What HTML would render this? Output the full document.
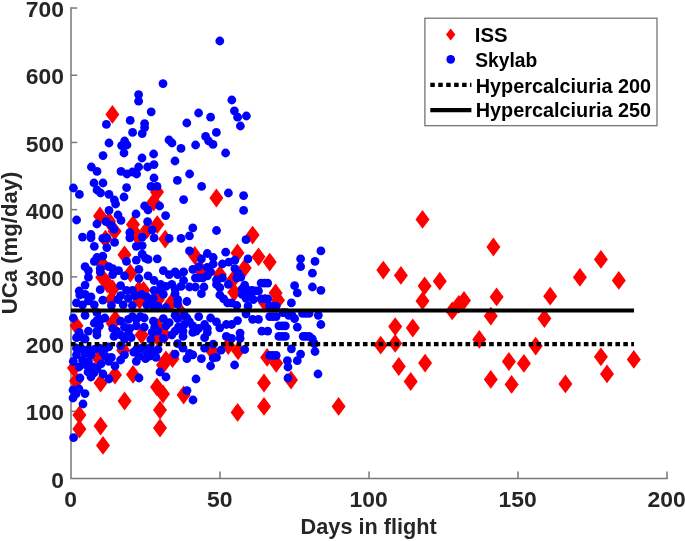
<!DOCTYPE html>
<html><head><meta charset="utf-8"><title>UCa vs Days in flight</title>
<style>
html,body{margin:0;padding:0;background:#fff;}
svg{display:block;}
text{font-family:"Liberation Sans",sans-serif;font-weight:bold;fill:#262626;}
.lg{fill:#000;}
</style></head><body>
<svg width="685" height="541" viewBox="0 0 685 541">
<rect width="685" height="541" fill="#fff"/>

<g stroke="#787878" stroke-width="1.5" fill="none">
<path d="M71.0 7.30V478.5H667.75"/>
<path d="M71.0 411.29h6.2"/>
<path d="M71.0 344.09h6.2"/>
<path d="M71.0 276.88h6.2"/>
<path d="M71.0 209.67h6.2"/>
<path d="M71.0 142.46h6.2"/>
<path d="M71.0 75.26h6.2"/>
<path d="M71.0 8.05h6.2"/>
<path d="M220.00 478.5v-6.9"/>
<path d="M369.00 478.5v-6.9"/>
<path d="M518.00 478.5v-6.9"/>
<path d="M667.00 478.5v-6.9"/>
</g>
<g fill="#ff0000">
<path d="M112.4 105.0L119.4 114.4L112.4 123.8L105.4 114.4Z"/>
<path d="M157.0 182.6L164.0 192.0L157.0 201.4L150.0 192.0Z"/>
<path d="M153.6 192.6L160.6 202.0L153.6 211.4L146.6 202.0Z"/>
<path d="M100.0 206.6L107.0 216.0L100.0 225.4L93.0 216.0Z"/>
<path d="M109.0 211.6L116.0 221.0L109.0 230.4L102.0 221.0Z"/>
<path d="M216.4 188.6L223.4 198.0L216.4 207.4L209.4 198.0Z"/>
<path d="M163.0 355.6L170.0 365.0L163.0 374.4L156.0 365.0Z"/>
<path d="M74.0 358.6L81.0 368.0L74.0 377.4L67.0 368.0Z"/>
<path d="M115.0 365.6L122.0 375.0L115.0 384.4L108.0 375.0Z"/>
<path d="M133.0 365.0L140.0 374.4L133.0 383.8L126.0 374.4Z"/>
<path d="M76.0 371.6L83.0 381.0L76.0 390.4L69.0 381.0Z"/>
<path d="M100.6 373.6L107.6 383.0L100.6 392.4L93.6 383.0Z"/>
<path d="M157.0 377.6L164.0 387.0L157.0 396.4L150.0 387.0Z"/>
<path d="M163.0 384.6L170.0 394.0L163.0 403.4L156.0 394.0Z"/>
<path d="M183.6 385.6L190.6 395.0L183.6 404.4L176.6 395.0Z"/>
<path d="M124.6 391.6L131.6 401.0L124.6 410.4L117.6 401.0Z"/>
<path d="M160.0 400.6L167.0 410.0L160.0 419.4L153.0 410.0Z"/>
<path d="M264.0 373.6L271.0 383.0L264.0 392.4L257.0 383.0Z"/>
<path d="M291.0 370.6L298.0 380.0L291.0 389.4L284.0 380.0Z"/>
<path d="M264.0 397.0L271.0 406.4L264.0 415.8L257.0 406.4Z"/>
<path d="M237.6 403.0L244.6 412.4L237.6 421.8L230.6 412.4Z"/>
<path d="M338.6 397.0L345.6 406.4L338.6 415.8L331.6 406.4Z"/>
<path d="M79.4 405.6L86.4 415.0L79.4 424.4L72.4 415.0Z"/>
<path d="M79.4 419.6L86.4 429.0L79.4 438.4L72.4 429.0Z"/>
<path d="M100.6 416.6L107.6 426.0L100.6 435.4L93.6 426.0Z"/>
<path d="M103.0 436.0L110.0 445.4L103.0 454.8L96.0 445.4Z"/>
<path d="M422.5 210.0L429.5 219.4L422.5 228.8L415.5 219.4Z"/>
<path d="M493.4 237.6L500.4 247.0L493.4 256.4L486.4 247.0Z"/>
<path d="M383.3 260.7L390.3 270.1L383.3 279.5L376.3 270.1Z"/>
<path d="M400.9 266.0L407.9 275.4L400.9 284.8L393.9 275.4Z"/>
<path d="M439.8 271.8L446.8 281.2L439.8 290.6L432.8 281.2Z"/>
<path d="M424.6 276.5L431.6 285.9L424.6 295.3L417.6 285.9Z"/>
<path d="M422.5 291.5L429.5 300.9L422.5 310.3L415.5 300.9Z"/>
<path d="M496.6 287.5L503.6 296.9L496.6 306.3L489.6 296.9Z"/>
<path d="M464.0 291.0L471.0 300.4L464.0 309.8L457.0 300.4Z"/>
<path d="M458.8 294.9L465.8 304.3L458.8 313.7L451.8 304.3Z"/>
<path d="M452.2 301.5L459.2 310.9L452.2 320.3L445.2 310.9Z"/>
<path d="M490.8 306.7L497.8 316.1L490.8 325.5L483.8 316.1Z"/>
<path d="M395.2 317.2L402.2 326.6L395.2 336.0L388.2 326.6Z"/>
<path d="M412.8 318.6L419.8 328.0L412.8 337.4L405.8 328.0Z"/>
<path d="M380.7 335.8L387.7 345.2L380.7 354.6L373.7 345.2Z"/>
<path d="M395.2 334.0L402.2 343.4L395.2 352.8L388.2 343.4Z"/>
<path d="M398.8 357.1L405.8 366.5L398.8 375.9L391.8 366.5Z"/>
<path d="M410.7 372.1L417.7 381.5L410.7 390.9L403.7 381.5Z"/>
<path d="M425.1 353.7L432.1 363.1L425.1 372.5L418.1 363.1Z"/>
<path d="M479.3 330.0L486.3 339.4L479.3 348.8L472.3 339.4Z"/>
<path d="M490.8 370.0L497.8 379.4L490.8 388.8L483.8 379.4Z"/>
<path d="M600.9 250.0L607.9 259.4L600.9 268.8L593.9 259.4Z"/>
<path d="M579.9 267.9L586.9 277.3L579.9 286.7L572.9 277.3Z"/>
<path d="M618.8 271.0L625.8 280.4L618.8 289.8L611.8 280.4Z"/>
<path d="M550.2 286.8L557.2 296.2L550.2 305.6L543.2 296.2Z"/>
<path d="M544.4 309.1L551.4 318.5L544.4 327.9L537.4 318.5Z"/>
<path d="M535.7 336.7L542.7 346.1L535.7 355.5L528.7 346.1Z"/>
<path d="M508.9 352.1L515.9 361.5L508.9 370.9L501.9 361.5Z"/>
<path d="M523.9 354.0L530.9 363.4L523.9 372.8L516.9 363.4Z"/>
<path d="M511.6 375.0L518.6 384.4L511.6 393.8L504.6 384.4Z"/>
<path d="M565.4 374.5L572.4 383.9L565.4 393.3L558.4 383.9Z"/>
<path d="M600.9 347.4L607.9 356.8L600.9 366.2L593.9 356.8Z"/>
<path d="M607.0 364.5L614.0 373.9L607.0 383.3L600.0 373.9Z"/>
<path d="M633.8 350.0L640.8 359.4L633.8 368.8L626.8 359.4Z"/>
<path d="M114.6 221.8L121.6 231.2L114.6 240.6L107.6 231.2Z"/>
<path d="M105.4 229.7L112.4 239.1L105.4 248.5L98.4 239.1Z"/>
<path d="M133.0 215.2L140.0 224.6L133.0 234.0L126.0 224.6Z"/>
<path d="M137.6 227.1L144.6 236.5L137.6 245.9L130.6 236.5Z"/>
<path d="M146.8 220.5L153.8 229.9L146.8 239.3L139.8 229.9Z"/>
<path d="M157.3 215.2L164.3 224.6L157.3 234.0L150.3 224.6Z"/>
<path d="M124.5 245.4L131.5 254.8L124.5 264.2L117.5 254.8Z"/>
<path d="M102.2 254.6L109.2 264.0L102.2 273.4L95.2 264.0Z"/>
<path d="M130.4 263.8L137.4 273.2L130.4 282.6L123.4 273.2Z"/>
<path d="M102.2 267.8L109.2 277.2L102.2 286.6L95.2 277.2Z"/>
<path d="M107.4 274.4L114.4 283.8L107.4 293.2L100.4 283.8Z"/>
<path d="M112.7 279.6L119.7 289.0L112.7 298.4L105.7 289.0Z"/>
<path d="M138.9 280.3L145.9 289.7L138.9 299.1L131.9 289.7Z"/>
<path d="M143.5 280.9L150.5 290.3L143.5 299.7L136.5 290.3Z"/>
<path d="M165.2 229.7L172.2 239.1L165.2 248.5L158.2 239.1Z"/>
<path d="M194.8 246.1L201.8 255.5L194.8 264.9L187.8 255.5Z"/>
<path d="M237.5 243.5L244.5 252.9L237.5 262.3L230.5 252.9Z"/>
<path d="M244.7 258.6L251.7 268.0L244.7 277.4L237.7 268.0Z"/>
<path d="M200.7 260.6L207.7 270.0L200.7 279.4L193.7 270.0Z"/>
<path d="M219.8 265.2L226.8 274.6L219.8 284.0L212.8 274.6Z"/>
<path d="M232.9 270.4L239.9 279.8L232.9 289.2L225.9 279.8Z"/>
<path d="M234.2 282.9L241.2 292.3L234.2 301.7L227.2 292.3Z"/>
<path d="M252.6 225.7L259.6 235.1L252.6 244.5L245.6 235.1Z"/>
<path d="M258.5 247.4L265.5 256.8L258.5 266.2L251.5 256.8Z"/>
<path d="M269.7 252.7L276.7 262.1L269.7 271.5L262.7 262.1Z"/>
<path d="M275.6 283.5L282.6 292.9L275.6 302.3L268.6 292.9Z"/>
<path d="M111.4 290.2L118.4 299.6L111.4 309.0L104.4 299.6Z"/>
<path d="M139.6 290.8L146.6 300.2L139.6 309.6L132.6 300.2Z"/>
<path d="M76.5 316.4L83.5 325.8L76.5 335.2L69.5 325.8Z"/>
<path d="M115.3 309.9L122.3 319.3L115.3 328.7L108.3 319.3Z"/>
<path d="M112.7 313.8L119.7 323.2L112.7 332.6L105.7 323.2Z"/>
<path d="M141.6 325.6L148.6 335.0L141.6 344.4L134.6 335.0Z"/>
<path d="M123.2 340.8L130.2 350.2L123.2 359.6L116.2 350.2Z"/>
<path d="M158.0 290.2L165.0 299.6L158.0 309.0L151.0 299.6Z"/>
<path d="M98.9 349.3L105.9 358.7L98.9 368.1L91.9 358.7Z"/>
<path d="M158.0 328.3L165.0 337.7L158.0 347.1L151.0 337.7Z"/>
<path d="M171.1 293.5L178.1 302.9L171.1 312.3L164.1 302.9Z"/>
<path d="M164.6 325.6L171.6 335.0L164.6 344.4L157.6 335.0Z"/>
<path d="M158.0 317.8L165.0 327.2L158.0 336.6L151.0 327.2Z"/>
<path d="M181.0 303.3L188.0 312.7L181.0 322.1L174.0 312.7Z"/>
<path d="M211.9 341.4L218.9 350.8L211.9 360.2L204.9 350.8Z"/>
<path d="M228.3 336.2L235.3 345.6L228.3 355.0L221.3 345.6Z"/>
<path d="M238.1 341.4L245.1 350.8L238.1 360.2L231.1 350.8Z"/>
<path d="M165.9 350.6L172.9 360.0L165.9 369.4L158.9 360.0Z"/>
<path d="M172.5 349.3L179.5 358.7L172.5 368.1L165.5 358.7Z"/>
<path d="M265.1 293.5L272.1 302.9L265.1 312.3L258.1 302.9Z"/>
<path d="M267.1 348.0L274.1 357.4L267.1 366.8L260.1 357.4Z"/>
<path d="M276.2 353.9L283.2 363.3L276.2 372.7L269.2 363.3Z"/>
<path d="M160.0 418.6L167.0 428.0L160.0 437.4L153.0 428.0Z"/>
<path d="M278.0 290.8L285.0 300.2L278.0 309.6L271.0 300.2Z"/>
</g>
<g fill="#0000ff">
<circle cx="163.0" cy="83.6" r="4.4"/>
<circle cx="138.6" cy="94.6" r="4.4"/>
<circle cx="138.6" cy="101.2" r="4.4"/>
<circle cx="151.2" cy="111.8" r="4.4"/>
<circle cx="198.6" cy="113.0" r="4.4"/>
<circle cx="130.2" cy="120.4" r="4.4"/>
<circle cx="186.8" cy="123.0" r="4.4"/>
<circle cx="106.4" cy="124.4" r="4.4"/>
<circle cx="144.6" cy="123.6" r="4.4"/>
<circle cx="144.6" cy="127.6" r="4.4"/>
<circle cx="132.6" cy="132.4" r="4.4"/>
<circle cx="142.2" cy="133.6" r="4.4"/>
<circle cx="219.8" cy="41.0" r="4.4"/>
<circle cx="231.8" cy="100.0" r="4.4"/>
<circle cx="234.4" cy="110.8" r="4.4"/>
<circle cx="237.6" cy="117.2" r="4.4"/>
<circle cx="246.4" cy="116.0" r="4.4"/>
<circle cx="210.6" cy="117.2" r="4.4"/>
<circle cx="240.4" cy="126.0" r="4.4"/>
<circle cx="216.4" cy="132.4" r="4.4"/>
<circle cx="205.6" cy="136.4" r="4.4"/>
<circle cx="109.0" cy="143.0" r="4.4"/>
<circle cx="124.6" cy="141.0" r="4.4"/>
<circle cx="121.6" cy="145.6" r="4.4"/>
<circle cx="127.0" cy="145.0" r="4.4"/>
<circle cx="124.0" cy="153.0" r="4.4"/>
<circle cx="103.0" cy="155.6" r="4.4"/>
<circle cx="169.0" cy="140.0" r="4.4"/>
<circle cx="172.0" cy="143.0" r="4.4"/>
<circle cx="181.0" cy="148.4" r="4.4"/>
<circle cx="195.6" cy="145.0" r="4.4"/>
<circle cx="153.6" cy="154.0" r="4.4"/>
<circle cx="142.0" cy="158.0" r="4.4"/>
<circle cx="175.0" cy="161.0" r="4.4"/>
<circle cx="154.0" cy="164.6" r="4.4"/>
<circle cx="147.6" cy="167.0" r="4.4"/>
<circle cx="138.6" cy="167.0" r="4.4"/>
<circle cx="91.4" cy="167.0" r="4.4"/>
<circle cx="97.0" cy="171.4" r="4.4"/>
<circle cx="121.0" cy="171.4" r="4.4"/>
<circle cx="127.0" cy="174.0" r="4.4"/>
<circle cx="132.4" cy="172.0" r="4.4"/>
<circle cx="136.6" cy="174.0" r="4.4"/>
<circle cx="189.6" cy="174.0" r="4.4"/>
<circle cx="154.0" cy="178.0" r="4.4"/>
<circle cx="177.4" cy="180.4" r="4.4"/>
<circle cx="94.0" cy="183.0" r="4.4"/>
<circle cx="103.0" cy="183.0" r="4.4"/>
<circle cx="201.6" cy="186.4" r="4.4"/>
<circle cx="151.0" cy="186.4" r="4.4"/>
<circle cx="157.0" cy="186.4" r="4.4"/>
<circle cx="126.6" cy="187.6" r="4.4"/>
<circle cx="73.4" cy="188.0" r="4.4"/>
<circle cx="79.4" cy="194.4" r="4.4"/>
<circle cx="97.0" cy="190.0" r="4.4"/>
<circle cx="100.6" cy="193.0" r="4.4"/>
<circle cx="109.0" cy="194.4" r="4.4"/>
<circle cx="124.0" cy="197.0" r="4.4"/>
<circle cx="114.4" cy="200.0" r="4.4"/>
<circle cx="115.6" cy="204.0" r="4.4"/>
<circle cx="183.6" cy="199.6" r="4.4"/>
<circle cx="144.6" cy="206.0" r="4.4"/>
<circle cx="148.0" cy="210.0" r="4.4"/>
<circle cx="159.6" cy="206.0" r="4.4"/>
<circle cx="109.0" cy="210.4" r="4.4"/>
<circle cx="136.0" cy="214.0" r="4.4"/>
<circle cx="118.0" cy="215.0" r="4.4"/>
<circle cx="121.0" cy="220.4" r="4.4"/>
<circle cx="165.6" cy="215.6" r="4.4"/>
<circle cx="76.6" cy="220.0" r="4.4"/>
<circle cx="106.0" cy="221.6" r="4.4"/>
<circle cx="147.6" cy="221.6" r="4.4"/>
<circle cx="213.0" cy="144.4" r="4.4"/>
<circle cx="225.6" cy="153.0" r="4.4"/>
<circle cx="228.4" cy="193.0" r="4.4"/>
<circle cx="243.6" cy="195.6" r="4.4"/>
<circle cx="243.6" cy="210.4" r="4.4"/>
<circle cx="86.0" cy="365.0" r="4.4"/>
<circle cx="93.0" cy="367.0" r="4.4"/>
<circle cx="97.0" cy="369.0" r="4.4"/>
<circle cx="101.0" cy="364.0" r="4.4"/>
<circle cx="115.0" cy="366.0" r="4.4"/>
<circle cx="79.0" cy="367.0" r="4.4"/>
<circle cx="88.0" cy="372.0" r="4.4"/>
<circle cx="94.0" cy="373.0" r="4.4"/>
<circle cx="91.0" cy="377.0" r="4.4"/>
<circle cx="103.0" cy="374.0" r="4.4"/>
<circle cx="109.0" cy="379.0" r="4.4"/>
<circle cx="80.0" cy="378.0" r="4.4"/>
<circle cx="139.0" cy="378.0" r="4.4"/>
<circle cx="160.0" cy="372.0" r="4.4"/>
<circle cx="166.0" cy="377.0" r="4.4"/>
<circle cx="196.0" cy="379.0" r="4.4"/>
<circle cx="73.0" cy="390.0" r="4.4"/>
<circle cx="79.0" cy="389.0" r="4.4"/>
<circle cx="85.0" cy="393.6" r="4.4"/>
<circle cx="76.0" cy="394.0" r="4.4"/>
<circle cx="73.0" cy="398.0" r="4.4"/>
<circle cx="83.0" cy="404.0" r="4.4"/>
<circle cx="187.0" cy="390.6" r="4.4"/>
<circle cx="193.0" cy="400.0" r="4.4"/>
<circle cx="210.6" cy="366.0" r="4.4"/>
<circle cx="234.6" cy="365.0" r="4.4"/>
<circle cx="288.0" cy="367.0" r="4.4"/>
<circle cx="318.0" cy="374.0" r="4.4"/>
<circle cx="288.0" cy="378.0" r="4.4"/>
<circle cx="73.6" cy="437.6" r="4.4"/>
<circle cx="82.5" cy="237.1" r="4.4"/>
<circle cx="91.0" cy="234.5" r="4.4"/>
<circle cx="91.0" cy="237.8" r="4.4"/>
<circle cx="96.9" cy="224.0" r="4.4"/>
<circle cx="94.3" cy="246.3" r="4.4"/>
<circle cx="102.8" cy="238.4" r="4.4"/>
<circle cx="106.8" cy="237.8" r="4.4"/>
<circle cx="106.8" cy="247.6" r="4.4"/>
<circle cx="114.6" cy="242.4" r="4.4"/>
<circle cx="114.0" cy="229.2" r="4.4"/>
<circle cx="111.4" cy="225.3" r="4.4"/>
<circle cx="129.8" cy="232.5" r="4.4"/>
<circle cx="129.8" cy="237.8" r="4.4"/>
<circle cx="142.2" cy="237.1" r="4.4"/>
<circle cx="136.3" cy="246.3" r="4.4"/>
<circle cx="142.2" cy="245.6" r="4.4"/>
<circle cx="152.1" cy="229.9" r="4.4"/>
<circle cx="154.1" cy="237.8" r="4.4"/>
<circle cx="157.3" cy="258.8" r="4.4"/>
<circle cx="142.2" cy="254.2" r="4.4"/>
<circle cx="145.5" cy="258.1" r="4.4"/>
<circle cx="148.1" cy="259.4" r="4.4"/>
<circle cx="136.3" cy="260.1" r="4.4"/>
<circle cx="126.5" cy="261.4" r="4.4"/>
<circle cx="102.8" cy="256.2" r="4.4"/>
<circle cx="96.9" cy="257.5" r="4.4"/>
<circle cx="94.3" cy="261.4" r="4.4"/>
<circle cx="85.1" cy="266.7" r="4.4"/>
<circle cx="88.4" cy="270.6" r="4.4"/>
<circle cx="100.2" cy="268.6" r="4.4"/>
<circle cx="100.2" cy="271.9" r="4.4"/>
<circle cx="108.7" cy="266.7" r="4.4"/>
<circle cx="112.7" cy="268.6" r="4.4"/>
<circle cx="118.6" cy="270.6" r="4.4"/>
<circle cx="112.7" cy="274.6" r="4.4"/>
<circle cx="124.5" cy="275.9" r="4.4"/>
<circle cx="138.9" cy="269.3" r="4.4"/>
<circle cx="138.9" cy="278.5" r="4.4"/>
<circle cx="148.1" cy="275.9" r="4.4"/>
<circle cx="154.1" cy="280.5" r="4.4"/>
<circle cx="88.4" cy="277.2" r="4.4"/>
<circle cx="85.1" cy="285.1" r="4.4"/>
<circle cx="79.2" cy="291.0" r="4.4"/>
<circle cx="100.2" cy="289.7" r="4.4"/>
<circle cx="120.6" cy="285.7" r="4.4"/>
<circle cx="126.5" cy="290.3" r="4.4"/>
<circle cx="132.4" cy="290.3" r="4.4"/>
<circle cx="154.1" cy="290.3" r="4.4"/>
<circle cx="192.8" cy="227.9" r="4.4"/>
<circle cx="216.5" cy="230.5" r="4.4"/>
<circle cx="189.5" cy="235.8" r="4.4"/>
<circle cx="181.0" cy="238.4" r="4.4"/>
<circle cx="169.2" cy="238.4" r="4.4"/>
<circle cx="246.0" cy="239.7" r="4.4"/>
<circle cx="189.5" cy="250.9" r="4.4"/>
<circle cx="207.3" cy="253.5" r="4.4"/>
<circle cx="225.7" cy="252.2" r="4.4"/>
<circle cx="201.4" cy="258.8" r="4.4"/>
<circle cx="213.2" cy="257.5" r="4.4"/>
<circle cx="213.2" cy="264.0" r="4.4"/>
<circle cx="234.9" cy="260.1" r="4.4"/>
<circle cx="228.9" cy="262.1" r="4.4"/>
<circle cx="222.4" cy="264.0" r="4.4"/>
<circle cx="248.0" cy="258.8" r="4.4"/>
<circle cx="198.7" cy="266.7" r="4.4"/>
<circle cx="192.8" cy="269.3" r="4.4"/>
<circle cx="207.3" cy="267.3" r="4.4"/>
<circle cx="210.6" cy="271.9" r="4.4"/>
<circle cx="163.3" cy="270.6" r="4.4"/>
<circle cx="169.2" cy="274.6" r="4.4"/>
<circle cx="175.1" cy="271.9" r="4.4"/>
<circle cx="177.7" cy="274.6" r="4.4"/>
<circle cx="183.6" cy="271.9" r="4.4"/>
<circle cx="183.6" cy="280.5" r="4.4"/>
<circle cx="195.4" cy="277.8" r="4.4"/>
<circle cx="198.7" cy="277.8" r="4.4"/>
<circle cx="202.7" cy="277.8" r="4.4"/>
<circle cx="207.3" cy="275.9" r="4.4"/>
<circle cx="234.9" cy="268.6" r="4.4"/>
<circle cx="238.1" cy="273.2" r="4.4"/>
<circle cx="240.8" cy="277.2" r="4.4"/>
<circle cx="236.8" cy="277.8" r="4.4"/>
<circle cx="216.5" cy="279.8" r="4.4"/>
<circle cx="222.4" cy="277.8" r="4.4"/>
<circle cx="216.5" cy="284.4" r="4.4"/>
<circle cx="219.8" cy="287.7" r="4.4"/>
<circle cx="228.3" cy="284.4" r="4.4"/>
<circle cx="160.6" cy="284.4" r="4.4"/>
<circle cx="165.9" cy="286.4" r="4.4"/>
<circle cx="171.8" cy="284.4" r="4.4"/>
<circle cx="175.1" cy="289.0" r="4.4"/>
<circle cx="181.0" cy="286.4" r="4.4"/>
<circle cx="189.5" cy="287.0" r="4.4"/>
<circle cx="195.4" cy="287.0" r="4.4"/>
<circle cx="204.0" cy="287.0" r="4.4"/>
<circle cx="160.6" cy="290.3" r="4.4"/>
<circle cx="244.7" cy="285.1" r="4.4"/>
<circle cx="242.1" cy="289.0" r="4.4"/>
<circle cx="248.0" cy="290.3" r="4.4"/>
<circle cx="320.9" cy="250.9" r="4.4"/>
<circle cx="300.6" cy="258.8" r="4.4"/>
<circle cx="315.0" cy="261.4" r="4.4"/>
<circle cx="300.6" cy="266.7" r="4.4"/>
<circle cx="312.4" cy="273.2" r="4.4"/>
<circle cx="261.1" cy="283.1" r="4.4"/>
<circle cx="264.4" cy="283.1" r="4.4"/>
<circle cx="267.7" cy="283.1" r="4.4"/>
<circle cx="294.6" cy="285.7" r="4.4"/>
<circle cx="312.4" cy="287.0" r="4.4"/>
<circle cx="320.9" cy="290.3" r="4.4"/>
<circle cx="251.9" cy="290.3" r="4.4"/>
<circle cx="255.2" cy="291.0" r="4.4"/>
<circle cx="258.5" cy="291.0" r="4.4"/>
<circle cx="297.3" cy="292.9" r="4.4"/>
<circle cx="76.5" cy="302.9" r="4.4"/>
<circle cx="79.8" cy="295.0" r="4.4"/>
<circle cx="82.5" cy="304.8" r="4.4"/>
<circle cx="85.1" cy="294.3" r="4.4"/>
<circle cx="88.4" cy="300.9" r="4.4"/>
<circle cx="91.0" cy="296.9" r="4.4"/>
<circle cx="102.8" cy="300.2" r="4.4"/>
<circle cx="94.3" cy="304.8" r="4.4"/>
<circle cx="111.4" cy="305.5" r="4.4"/>
<circle cx="117.9" cy="299.6" r="4.4"/>
<circle cx="120.6" cy="295.6" r="4.4"/>
<circle cx="123.2" cy="304.8" r="4.4"/>
<circle cx="128.4" cy="298.3" r="4.4"/>
<circle cx="132.4" cy="305.5" r="4.4"/>
<circle cx="135.0" cy="295.6" r="4.4"/>
<circle cx="141.6" cy="294.3" r="4.4"/>
<circle cx="146.8" cy="296.9" r="4.4"/>
<circle cx="149.5" cy="303.5" r="4.4"/>
<circle cx="153.4" cy="298.3" r="4.4"/>
<circle cx="146.8" cy="304.8" r="4.4"/>
<circle cx="158.0" cy="306.1" r="4.4"/>
<circle cx="153.4" cy="306.1" r="4.4"/>
<circle cx="73.3" cy="318.0" r="4.4"/>
<circle cx="85.1" cy="315.3" r="4.4"/>
<circle cx="96.9" cy="312.7" r="4.4"/>
<circle cx="94.3" cy="323.2" r="4.4"/>
<circle cx="96.9" cy="320.6" r="4.4"/>
<circle cx="100.8" cy="319.3" r="4.4"/>
<circle cx="104.8" cy="318.0" r="4.4"/>
<circle cx="99.5" cy="325.8" r="4.4"/>
<circle cx="96.9" cy="331.1" r="4.4"/>
<circle cx="96.9" cy="335.0" r="4.4"/>
<circle cx="88.4" cy="331.1" r="4.4"/>
<circle cx="79.2" cy="332.4" r="4.4"/>
<circle cx="76.5" cy="337.7" r="4.4"/>
<circle cx="82.5" cy="337.7" r="4.4"/>
<circle cx="85.1" cy="339.0" r="4.4"/>
<circle cx="112.7" cy="328.5" r="4.4"/>
<circle cx="116.6" cy="331.1" r="4.4"/>
<circle cx="120.6" cy="321.2" r="4.4"/>
<circle cx="124.5" cy="327.2" r="4.4"/>
<circle cx="120.6" cy="335.0" r="4.4"/>
<circle cx="114.0" cy="336.4" r="4.4"/>
<circle cx="128.4" cy="319.3" r="4.4"/>
<circle cx="132.4" cy="316.6" r="4.4"/>
<circle cx="136.3" cy="319.3" r="4.4"/>
<circle cx="140.3" cy="316.6" r="4.4"/>
<circle cx="144.2" cy="318.0" r="4.4"/>
<circle cx="136.3" cy="325.8" r="4.4"/>
<circle cx="129.8" cy="328.5" r="4.4"/>
<circle cx="144.2" cy="327.2" r="4.4"/>
<circle cx="128.4" cy="333.7" r="4.4"/>
<circle cx="124.5" cy="339.0" r="4.4"/>
<circle cx="131.1" cy="337.7" r="4.4"/>
<circle cx="153.4" cy="321.2" r="4.4"/>
<circle cx="154.7" cy="327.2" r="4.4"/>
<circle cx="152.1" cy="332.4" r="4.4"/>
<circle cx="150.8" cy="339.6" r="4.4"/>
<circle cx="158.0" cy="331.1" r="4.4"/>
<circle cx="76.5" cy="348.2" r="4.4"/>
<circle cx="76.5" cy="354.8" r="4.4"/>
<circle cx="73.3" cy="361.3" r="4.4"/>
<circle cx="82.5" cy="349.5" r="4.4"/>
<circle cx="85.1" cy="353.4" r="4.4"/>
<circle cx="82.5" cy="360.0" r="4.4"/>
<circle cx="88.4" cy="349.5" r="4.4"/>
<circle cx="91.0" cy="354.8" r="4.4"/>
<circle cx="88.4" cy="361.3" r="4.4"/>
<circle cx="94.3" cy="349.5" r="4.4"/>
<circle cx="99.5" cy="348.2" r="4.4"/>
<circle cx="102.8" cy="352.1" r="4.4"/>
<circle cx="105.4" cy="348.2" r="4.4"/>
<circle cx="108.7" cy="346.9" r="4.4"/>
<circle cx="105.4" cy="356.1" r="4.4"/>
<circle cx="111.4" cy="357.4" r="4.4"/>
<circle cx="108.7" cy="361.3" r="4.4"/>
<circle cx="120.6" cy="345.6" r="4.4"/>
<circle cx="124.5" cy="354.8" r="4.4"/>
<circle cx="120.6" cy="360.0" r="4.4"/>
<circle cx="133.7" cy="352.1" r="4.4"/>
<circle cx="136.3" cy="349.5" r="4.4"/>
<circle cx="141.6" cy="348.2" r="4.4"/>
<circle cx="138.9" cy="356.1" r="4.4"/>
<circle cx="136.3" cy="361.3" r="4.4"/>
<circle cx="145.5" cy="350.8" r="4.4"/>
<circle cx="149.5" cy="348.2" r="4.4"/>
<circle cx="153.4" cy="350.8" r="4.4"/>
<circle cx="149.5" cy="356.1" r="4.4"/>
<circle cx="156.0" cy="357.4" r="4.4"/>
<circle cx="158.0" cy="349.5" r="4.4"/>
<circle cx="145.5" cy="358.7" r="4.4"/>
<circle cx="163.3" cy="294.3" r="4.4"/>
<circle cx="175.1" cy="293.7" r="4.4"/>
<circle cx="177.7" cy="299.6" r="4.4"/>
<circle cx="177.7" cy="304.2" r="4.4"/>
<circle cx="186.9" cy="301.5" r="4.4"/>
<circle cx="165.9" cy="307.5" r="4.4"/>
<circle cx="201.4" cy="293.7" r="4.4"/>
<circle cx="219.8" cy="295.0" r="4.4"/>
<circle cx="223.7" cy="298.9" r="4.4"/>
<circle cx="227.6" cy="302.9" r="4.4"/>
<circle cx="231.6" cy="302.9" r="4.4"/>
<circle cx="242.1" cy="294.3" r="4.4"/>
<circle cx="246.0" cy="298.3" r="4.4"/>
<circle cx="236.8" cy="305.5" r="4.4"/>
<circle cx="248.0" cy="306.1" r="4.4"/>
<circle cx="163.3" cy="318.6" r="4.4"/>
<circle cx="169.2" cy="322.6" r="4.4"/>
<circle cx="165.9" cy="325.8" r="4.4"/>
<circle cx="175.1" cy="315.3" r="4.4"/>
<circle cx="177.7" cy="318.6" r="4.4"/>
<circle cx="184.3" cy="315.3" r="4.4"/>
<circle cx="186.9" cy="318.0" r="4.4"/>
<circle cx="189.5" cy="321.9" r="4.4"/>
<circle cx="184.3" cy="324.5" r="4.4"/>
<circle cx="178.4" cy="327.2" r="4.4"/>
<circle cx="175.1" cy="331.1" r="4.4"/>
<circle cx="171.8" cy="335.0" r="4.4"/>
<circle cx="183.0" cy="331.1" r="4.4"/>
<circle cx="183.0" cy="336.4" r="4.4"/>
<circle cx="163.3" cy="338.3" r="4.4"/>
<circle cx="198.7" cy="316.6" r="4.4"/>
<circle cx="192.8" cy="325.8" r="4.4"/>
<circle cx="196.1" cy="331.1" r="4.4"/>
<circle cx="192.8" cy="332.4" r="4.4"/>
<circle cx="198.7" cy="328.5" r="4.4"/>
<circle cx="204.6" cy="324.5" r="4.4"/>
<circle cx="207.3" cy="328.5" r="4.4"/>
<circle cx="207.3" cy="332.4" r="4.4"/>
<circle cx="204.6" cy="337.7" r="4.4"/>
<circle cx="210.6" cy="318.0" r="4.4"/>
<circle cx="216.5" cy="321.9" r="4.4"/>
<circle cx="219.8" cy="327.8" r="4.4"/>
<circle cx="226.3" cy="324.5" r="4.4"/>
<circle cx="231.6" cy="324.5" r="4.4"/>
<circle cx="237.5" cy="320.6" r="4.4"/>
<circle cx="240.1" cy="333.1" r="4.4"/>
<circle cx="226.3" cy="336.4" r="4.4"/>
<circle cx="231.6" cy="338.3" r="4.4"/>
<circle cx="240.1" cy="338.3" r="4.4"/>
<circle cx="246.0" cy="314.0" r="4.4"/>
<circle cx="177.7" cy="343.6" r="4.4"/>
<circle cx="183.0" cy="348.2" r="4.4"/>
<circle cx="204.6" cy="348.2" r="4.4"/>
<circle cx="213.2" cy="344.2" r="4.4"/>
<circle cx="175.1" cy="354.1" r="4.4"/>
<circle cx="189.5" cy="353.4" r="4.4"/>
<circle cx="192.8" cy="354.8" r="4.4"/>
<circle cx="186.9" cy="358.7" r="4.4"/>
<circle cx="201.4" cy="358.7" r="4.4"/>
<circle cx="213.2" cy="358.0" r="4.4"/>
<circle cx="216.5" cy="357.4" r="4.4"/>
<circle cx="221.1" cy="350.2" r="4.4"/>
<circle cx="244.7" cy="349.5" r="4.4"/>
<circle cx="291.4" cy="302.9" r="4.4"/>
<circle cx="250.6" cy="295.6" r="4.4"/>
<circle cx="253.3" cy="299.6" r="4.4"/>
<circle cx="261.1" cy="298.9" r="4.4"/>
<circle cx="264.4" cy="298.9" r="4.4"/>
<circle cx="267.7" cy="298.9" r="4.4"/>
<circle cx="269.7" cy="306.1" r="4.4"/>
<circle cx="273.0" cy="306.1" r="4.4"/>
<circle cx="276.2" cy="306.1" r="4.4"/>
<circle cx="252.6" cy="319.3" r="4.4"/>
<circle cx="258.5" cy="319.3" r="4.4"/>
<circle cx="269.7" cy="316.6" r="4.4"/>
<circle cx="273.0" cy="316.6" r="4.4"/>
<circle cx="276.2" cy="316.6" r="4.4"/>
<circle cx="282.8" cy="312.7" r="4.4"/>
<circle cx="286.1" cy="312.7" r="4.4"/>
<circle cx="288.7" cy="315.3" r="4.4"/>
<circle cx="292.0" cy="315.3" r="4.4"/>
<circle cx="294.6" cy="318.6" r="4.4"/>
<circle cx="302.5" cy="313.4" r="4.4"/>
<circle cx="305.8" cy="313.4" r="4.4"/>
<circle cx="309.1" cy="313.4" r="4.4"/>
<circle cx="318.3" cy="315.3" r="4.4"/>
<circle cx="320.9" cy="324.5" r="4.4"/>
<circle cx="297.3" cy="327.2" r="4.4"/>
<circle cx="278.9" cy="325.8" r="4.4"/>
<circle cx="282.2" cy="325.8" r="4.4"/>
<circle cx="285.4" cy="325.8" r="4.4"/>
<circle cx="261.8" cy="331.1" r="4.4"/>
<circle cx="267.7" cy="331.1" r="4.4"/>
<circle cx="278.9" cy="336.4" r="4.4"/>
<circle cx="282.2" cy="336.4" r="4.4"/>
<circle cx="285.4" cy="336.4" r="4.4"/>
<circle cx="303.2" cy="336.4" r="4.4"/>
<circle cx="305.8" cy="336.4" r="4.4"/>
<circle cx="309.1" cy="336.4" r="4.4"/>
<circle cx="312.4" cy="339.0" r="4.4"/>
<circle cx="314.4" cy="343.6" r="4.4"/>
<circle cx="291.4" cy="348.8" r="4.4"/>
<circle cx="300.6" cy="354.1" r="4.4"/>
<circle cx="315.0" cy="351.5" r="4.4"/>
<circle cx="269.7" cy="355.4" r="4.4"/>
<circle cx="273.0" cy="355.4" r="4.4"/>
<circle cx="276.2" cy="355.4" r="4.4"/>
<circle cx="287.4" cy="360.7" r="4.4"/>
<circle cx="297.3" cy="360.7" r="4.4"/>
<circle cx="208.6" cy="141.0" r="4.4"/>
</g>
<line x1="71.0" y1="344.1" x2="634.0" y2="344.1" stroke="#000" stroke-width="4.2" stroke-dasharray="4.6 3.29"/>
<line x1="71.0" y1="310.5" x2="634.0" y2="310.5" stroke="#000" stroke-width="4.2"/>
<text x="64" y="487.6" font-size="22.9" text-anchor="end">0</text>
<text x="64" y="420.4" font-size="22.9" text-anchor="end">100</text>
<text x="64" y="353.2" font-size="22.9" text-anchor="end">200</text>
<text x="64" y="286.0" font-size="22.9" text-anchor="end">300</text>
<text x="64" y="218.8" font-size="22.9" text-anchor="end">400</text>
<text x="64" y="151.6" font-size="22.9" text-anchor="end">500</text>
<text x="64" y="84.4" font-size="22.9" text-anchor="end">600</text>
<text x="64" y="17.2" font-size="22.9" text-anchor="end">700</text>
<text x="70.7" y="507.3" font-size="22.9" text-anchor="middle">0</text>
<text x="219.7" y="507.3" font-size="22.9" text-anchor="middle">50</text>
<text x="368.7" y="507.3" font-size="22.9" text-anchor="middle">100</text>
<text x="517.7" y="507.3" font-size="22.9" text-anchor="middle">150</text>
<text x="666.7" y="507.3" font-size="22.9" text-anchor="middle">200</text>
<text x="300.6" y="534.4" font-size="22.5" textLength="136.2" lengthAdjust="spacingAndGlyphs">Days in flight</text>
<text transform="translate(17.4,314.3) rotate(-90)" font-size="22.5" textLength="142.8" lengthAdjust="spacingAndGlyphs">UCa (mg/day)</text>
<rect x="424.9" y="18.2" width="232.1" height="107.5" fill="#fff" stroke="#6a6a6a" stroke-width="1.2"/>
<path d="M450.7 28.4L455.4 34.5L450.7 40.6L446 34.5Z" fill="#f00"/>
<circle cx="450.7" cy="59.4" r="4.3" fill="#00f"/>
<line x1="430.3" y1="84.9" x2="471.4" y2="84.9" stroke="#000" stroke-width="4.2" stroke-dasharray="4.5 3.45"/>
<line x1="430.3" y1="110.1" x2="471.4" y2="110.1" stroke="#000" stroke-width="4.2"/>
<text x="474.8" y="42.2" font-size="20.4" class="lg" textLength="32.8" lengthAdjust="spacingAndGlyphs">ISS</text>
<text x="475.2" y="66.9" font-size="20.4" class="lg" textLength="62" lengthAdjust="spacingAndGlyphs">Skylab</text>
<text x="475.7" y="92.5" font-size="20.4" class="lg" textLength="175.4" lengthAdjust="spacingAndGlyphs">Hypercalciuria 200</text>
<text x="475.7" y="117.4" font-size="20.4" class="lg" textLength="175.4" lengthAdjust="spacingAndGlyphs">Hypercalciuria 250</text>
</svg></body></html>
